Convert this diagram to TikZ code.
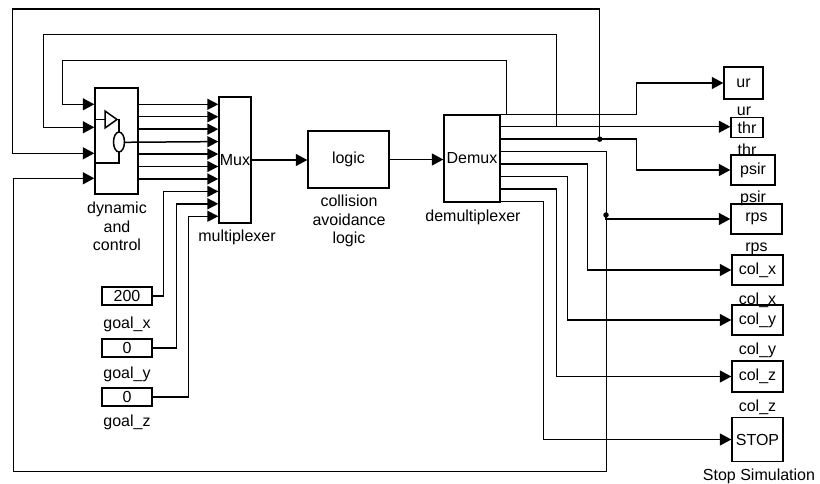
\documentclass[tikz,border=0pt]{standalone}
\usepackage{fontspec}
\setmainfont{Liberation Sans}
\usetikzlibrary{arrows.meta,calc}
\begin{document}
\begin{tikzpicture}[x=1pt,y=-1pt,
  wire/.style={line width=1.5pt},
  arr/.style={wire,-{Triangle[length=11.5pt,width=12pt]}},
  marr/.style={wire,-{Triangle[length=11pt,width=11pt]}},
  blk/.style={draw,line width=1.4pt,inner sep=0pt,font=\fontsize{16}{19}\selectfont},
  lbl/.style={inner sep=0pt,font=\fontsize{16}{18.5}\selectfont,align=center},
  jdot/.style={circle,fill,inner sep=0pt,minimum size=5.5pt}
]
\useasboundingbox (0,0) rectangle (820,484);

% blocks
\node[blk,minimum width=43pt,minimum height=106pt] (dyn) at (116.5,141) {};
\node[blk,minimum width=32pt,minimum height=126pt] (mux) at (235,160) {Mux};
\node[blk,minimum width=81pt,minimum height=57pt] (logic) at (348.5,159.5) {logic};
\node[blk,minimum width=56pt,minimum height=87pt] (dmx) at (472,158.5) {Demux};
\node[blk,minimum width=50pt,minimum height=18pt] (gx) at (127,296) {200};
\node[blk,minimum width=50pt,minimum height=18pt] (gy) at (127,348) {0};
\node[blk,minimum width=50pt,minimum height=18pt] (gz) at (127,397) {0};
\node[blk,minimum width=39pt,minimum height=32pt] (ur) at (743.5,83) {ur};
\node[blk,minimum width=32pt,minimum height=20pt] (thr) at (747,127.4) {thr};
\node[blk,minimum width=44pt,minimum height=30pt] (psir) at (753,170) {psir};
\node[blk,minimum width=51pt,minimum height=30pt] (rps) at (756.5,219) {rps};
\node[blk,minimum width=51pt,minimum height=30pt] (colx) at (757.5,270) {col\_x};
\node[blk,minimum width=51pt,minimum height=30pt] (coly) at (757.5,320) {col\_y};
\node[blk,minimum width=51pt,minimum height=31pt] (colz) at (757.5,376.5) {col\_z};
\node[blk,minimum width=51pt,minimum height=44pt] (stop) at (757.5,439.5) {STOP};

% labels
\node[lbl,anchor=north] (dynl) at (117,202) {dynamic\\and\\control};
\node[lbl,anchor=base] (muxl) at (237,241) {multiplexer};
\node[lbl,anchor=north] (logl) at (349,195) {collision\\avoidance\\logic};
\node[lbl,anchor=base] (dmxl) at (473,222) {demultiplexer};
\node[lbl,anchor=base] (gxl) at (127,328.5) {goal\_x};
\node[lbl,anchor=base] (gyl) at (127,378) {goal\_y};
\node[lbl,anchor=base] (gzl) at (127,426.5) {goal\_z};
\node[lbl,anchor=base] (url) at (744,115.5) {ur};
\node[lbl,anchor=base] (thrl) at (747,156) {thr};
\node[lbl,anchor=base] (psirl) at (753,203) {psir};
\node[lbl,anchor=base] (rpsl) at (756.5,251.5) {rps};
\node[lbl,anchor=base] (colxl) at (757.5,304) {col\_x};
\node[lbl,anchor=base] (colyl) at (757.5,354) {col\_y};
\node[lbl,anchor=base] (colzl) at (757.5,411) {col\_z};
\node[lbl,anchor=base] (stopl) at (759,480) {Stop Simulation};

% dynamic block internals
\draw[wire] (95,119.5) -- (105,119.5);
\draw[wire] (105,111) -- (105,128) -- (117,119.5) -- cycle;
\draw[wire] (117,119.5) -- (119,119.5) -- (119,132);
\draw[wire] (119,142) ellipse [x radius=5.5, y radius=10];
\draw[wire] (119,152) -- (119,163) -- (95,163);

% ports
\foreach \i in {1,...,10}
  \coordinate (m\i) at ($(mux.north west)+(0,{8+12.44*(\i-1)})$);
\foreach \i in {1,...,8}
  \coordinate (d\i) at ($(dmx.north east)+(0,{12.43*(\i-1)})$);
\coordinate (i1) at ($(dyn.north west)+(0,17)$);
\coordinate (i2) at ($(dyn.north west)+(0,40)$);
\coordinate (i3) at ($(dyn.north west)+(0,66)$);
\coordinate (i4) at ($(dyn.north west)+(0,91)$);

% dyn -> mux
\foreach \i in {1,2,3,5,6,7}
  \draw[marr] (dyn.east |- m\i) -- (m\i);
\draw[marr] (124.5,142.3) -- (m4);

% goals -> mux
\draw[marr] (gx.east) -| ([xshift=-55pt]m8) -- (m8);
\draw[marr] (gy.east) -| ([xshift=-42pt]m9) -- (m9);
\draw[marr] (gz.east) -| ([xshift=-30pt]m10) -- (m10);

% main chain
\draw[arr] (mux.east) -- (mux.east -| logic.west);
\draw[arr] (logic.east) -- (logic.east -| dmx.west);

% demux outputs
\draw[arr] (d1) -| ([xshift=-87pt]ur.west) -- (ur.west);
\draw[arr] (d2) -- (d2 -| thr.west);
\draw[arr] (d3) -| ([xshift=-94pt]psir.west) -- (psir.west);
\draw[arr] (d5) -| ([xshift=-144pt]colx.west) -- (colx.west);
\draw[arr] (d6) -| ([xshift=-164pt]coly.west) -- (coly.west);
\draw[arr] (d7) -| ([xshift=-175pt]colz.west) -- (colz.west);
\draw[arr] (d8) -| ([xshift=-188pt]stop.west) -- (stop.west);

% junctions
\node[jdot] (j1) at ([xshift=99pt]d3) {};
\node[jdot] (j2) at (606,215) {};
\draw[arr] (j2.center) |- (rps.west);

% feedback loops
\draw[arr] ([xshift=6pt]d1) -- ++(0,-54) -| ([xshift=-32pt]i1) -- (i1);
\draw[arr] ([xshift=56pt]d2) -- ++(0,-92.4) -| ([xshift=-51pt]i2) -- (i2);
\draw[arr] (j1.center) -- ++(0,-130) -| ([xshift=-82pt]i3) -- (i3);
\draw[arr] (d4) -- ++(106,0) -- ++(0,319.7) -| ([xshift=-81pt]i4) -- (i4);
\end{tikzpicture}
\end{document}
